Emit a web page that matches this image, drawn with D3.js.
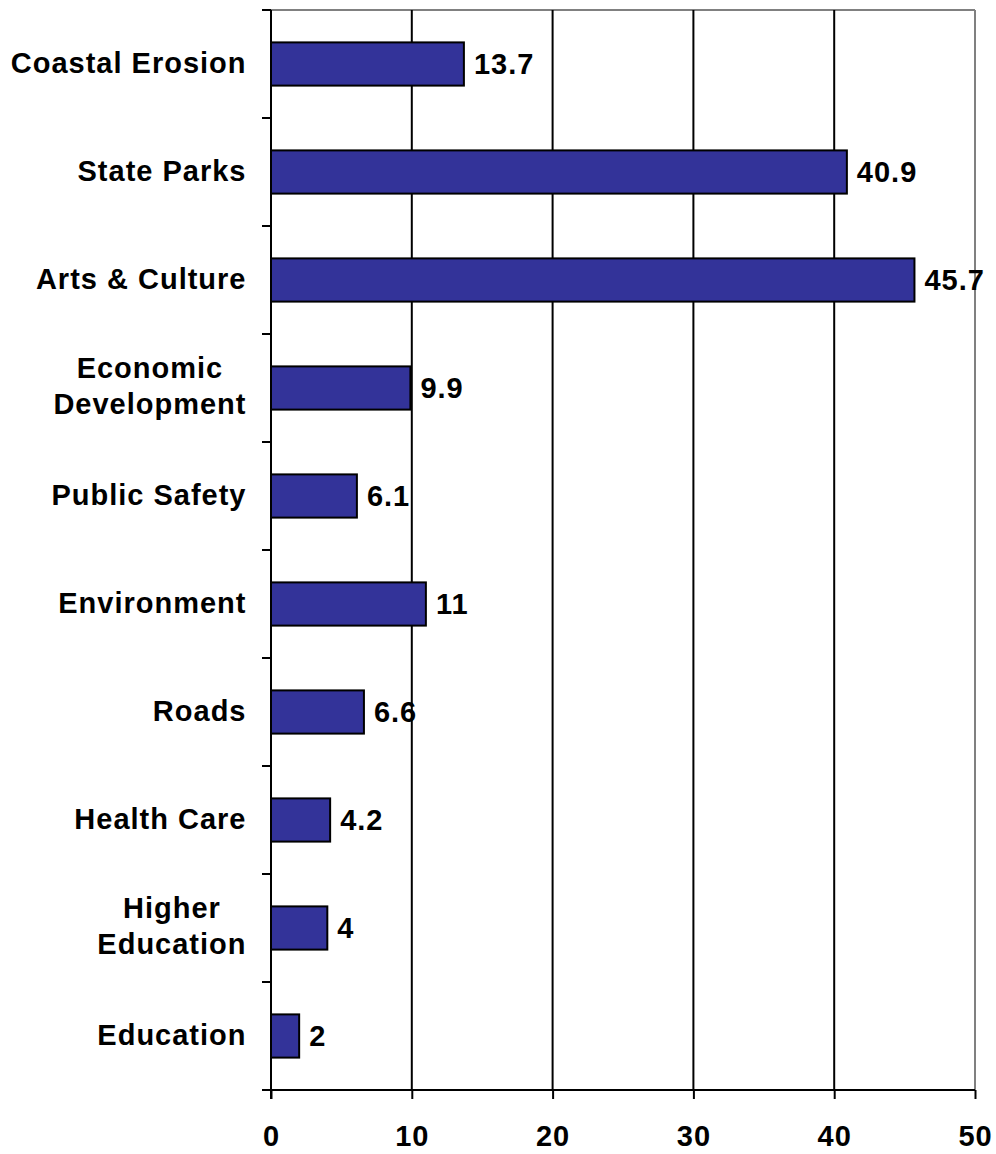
<!DOCTYPE html>
<html>
<head>
<meta charset="utf-8">
<script src="https://cdn.jsdelivr.net/npm/d3@7"></script>
<style>
html,body{margin:0;padding:0;background:#fff;}
text{font-family:"Liberation Sans",Arial,sans-serif;font-weight:bold;fill:#000;}
</style>
</head>
<body>
<svg id="chart" width="996" height="1154"></svg>
<script>
const categories = ["Coastal Erosion","State Parks","Arts & Culture","Economic Development","Public Safety","Environment","Roads","Health Care","Higher Education","Education"];
const labelLines = [["Coastal Erosion"],["State Parks"],["Arts & Culture"],["Economic","Development"],["Public Safety"],["Environment"],["Roads"],["Health Care"],["Higher","Education"],["Education"]];
const values = [13.7, 40.9, 45.7, 9.9, 6.1, 11, 6.6, 4.2, 4, 2];
const valueLabels = ["13.7","40.9","45.7","9.9","6.1","11","6.6","4.2","4","2"];
const xTicks = [0,10,20,30,40,50];

(function(){
const svg = d3.select("#chart");
const pL = 271, pR = 975, pT = 10, pB = 1090;
const fs = 29, ls = 1;

const x = d3.scaleLinear().domain([0,50]).range([pL,pR]);
const y = d3.scaleBand().domain(categories).range([pT,pB]).paddingInner(0.6).paddingOuter(0.3);
const yb = d3.scaleBand().domain(categories).range([pT,pB]);

// plot border (top & right gray)
svg.append("line").attr("x1",pL).attr("x2",pR).attr("y1",pT).attr("y2",pT).attr("stroke","#808080").attr("stroke-width",2);
svg.append("line").attr("x1",pR).attr("x2",pR).attr("y1",pT).attr("y2",pB).attr("stroke","#808080").attr("stroke-width",2);

// gridlines
svg.append("g").selectAll("line").data(xTicks.filter(d=>d>0&&d<50)).join("line")
  .attr("x1",d=>x(d)).attr("x2",d=>x(d)).attr("y1",pT).attr("y2",pB)
  .attr("stroke","#000").attr("stroke-width",2);

// bars
svg.append("g").selectAll("rect").data(values).join("rect")
  .attr("x",x(0)).attr("y",(d,i)=>y(categories[i]))
  .attr("width",d=>x(d)-x(0)).attr("height",y.bandwidth())
  .attr("fill","#333399").attr("stroke","#000").attr("stroke-width",2);

// value labels
svg.append("g").selectAll("text").data(values).join("text")
  .attr("x",d=>x(d)+10).attr("y",(d,i)=>y(categories[i])+y.bandwidth()/2+10)
  .attr("font-size",fs).attr("letter-spacing",ls).text((d,i)=>valueLabels[i]);

// x axis
const xAxis = d3.axisBottom(x).tickValues(xTicks).tickSize(9).tickPadding(26);
const gx = svg.append("g").attr("transform",`translate(0,${pB})`).call(xAxis);
gx.select(".domain").attr("stroke","#000").attr("stroke-width",2).attr("d",`M${pL-8},0H${pR}`);
gx.selectAll(".tick line").attr("stroke","#000").attr("stroke-width",2);
gx.selectAll(".tick text").attr("font-size",fs).attr("letter-spacing",ls)
  .attr("font-family","Liberation Sans, Arial, sans-serif").attr("font-weight","bold").attr("fill","#000");

// y axis
svg.append("line").attr("x1",pL).attr("x2",pL).attr("y1",pT).attr("y2",pB+9).attr("stroke","#000").attr("stroke-width",2);
const bounds = categories.map(c=>yb(c)).concat([pB]);
svg.append("g").selectAll("line").data(bounds).join("line")
  .attr("x1",pL-9).attr("x2",pL).attr("y1",d=>d).attr("y2",d=>d)
  .attr("stroke","#000").attr("stroke-width",2);

// category labels
const lg = svg.append("g");
categories.forEach((c,i)=>{
  const lines = labelLines[i];
  const cy = yb(c)+yb.bandwidth()/2;
  const t = lg.append("text").attr("font-size",fs).attr("letter-spacing",ls).attr("text-anchor","middle");
  const lh = 36;
  const spans = lines.map((s,j)=>t.append("tspan").text(s).attr("x",0)
     .attr("y", cy + (lines.length>1?8:9) + (j-(lines.length-1)/2)*lh));
  const w = t.node().getBBox().width;
  const cx = 246.5 - w/2;
  spans.forEach(s=>s.attr("x",cx));
});
})();
</script>
</body>
</html>
